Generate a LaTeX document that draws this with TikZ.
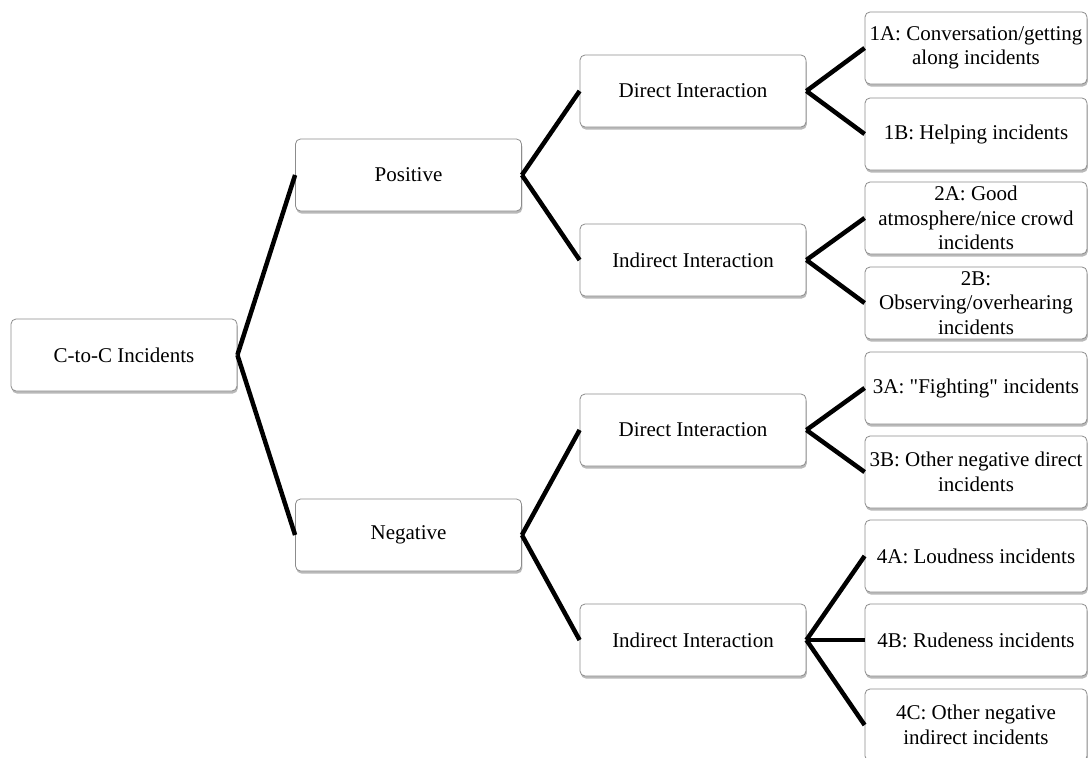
\documentclass[tikz,border=0pt]{standalone}
\usepackage{fontspec}
\setmainfont{Liberation Serif}
\usetikzlibrary{shadows}
\begin{document}
\begin{tikzpicture}[x=1pt,y=-1pt,
  card/.style={rounded corners=5pt, draw=black!45, line width=0.8pt, fill=white,
    drop shadow={shadow xshift=0.8pt, shadow yshift=-2.5pt, opacity=0.5, fill=black!55},
    minimum width=226pt, minimum height=72pt, align=center, inner sep=2pt,
    font=\fontsize{21}{24.5}\selectfont},
  leaf/.style={card, minimum width=222pt},
  branch/.style={line width=4.5pt, black}]
\useasboundingbox (0,0) rectangle (1088,758);
\clip (0,0) rectangle (1088,758);

% root and first level
\node[card] (root) at (124,355) {C-to-C Incidents};
\node[card] (pos) at (408.5,175) {Positive};
\node[card] (neg) at (408.5,535) {Negative};

% second level
\node[card] (pd) at (693,91)  {Direct Interaction};
\node[card] (pi) at (693,260) {Indirect Interaction};
\node[card] (nd) at (693,430) {Direct Interaction};
\node[card] (ni) at (693,640) {Indirect Interaction};

% incident categories
\node[leaf] (a1) at (976,48)  {1A: Conversation/getting\\along incidents};
\node[leaf] (b1) at (976,134) {1B: Helping incidents};
\node[leaf] (a2) at (976,218) {2A: Good\\atmosphere/nice crowd\\incidents};
\node[leaf] (b2) at (976,303) {2B:\\Observing/overhearing\\incidents};
\node[leaf] (a3) at (976,388) {3A: \textquotedbl Fighting\textquotedbl{} incidents};
\node[leaf] (b3) at (976,472) {3B: Other negative direct\\incidents};
\node[leaf] (a4) at (976,556) {4A: Loudness incidents};
\node[leaf] (b4) at (976,640) {4B: Rudeness incidents};
\node[leaf] (c4) at (976,725) {4C: Other negative\\indirect incidents};

% connectors
\draw[branch] (root.east) -- (pos.west);
\draw[branch] (root.east) -- (neg.west);
\draw[branch] (pos.east) -- (pd.west);
\draw[branch] (pos.east) -- (pi.west);
\draw[branch] (neg.east) -- (nd.west);
\draw[branch] (neg.east) -- (ni.west);
\draw[branch] (pd.east) -- (a1.west);
\draw[branch] (pd.east) -- (b1.west);
\draw[branch] (pi.east) -- (a2.west);
\draw[branch] (pi.east) -- (b2.west);
\draw[branch] (nd.east) -- (a3.west);
\draw[branch] (nd.east) -- (b3.west);
\draw[branch] (ni.east) -- (a4.west);
\draw[branch] (ni.east) -- (b4.west);
\draw[branch] (ni.east) -- (c4.west);
\end{tikzpicture}
\end{document}
